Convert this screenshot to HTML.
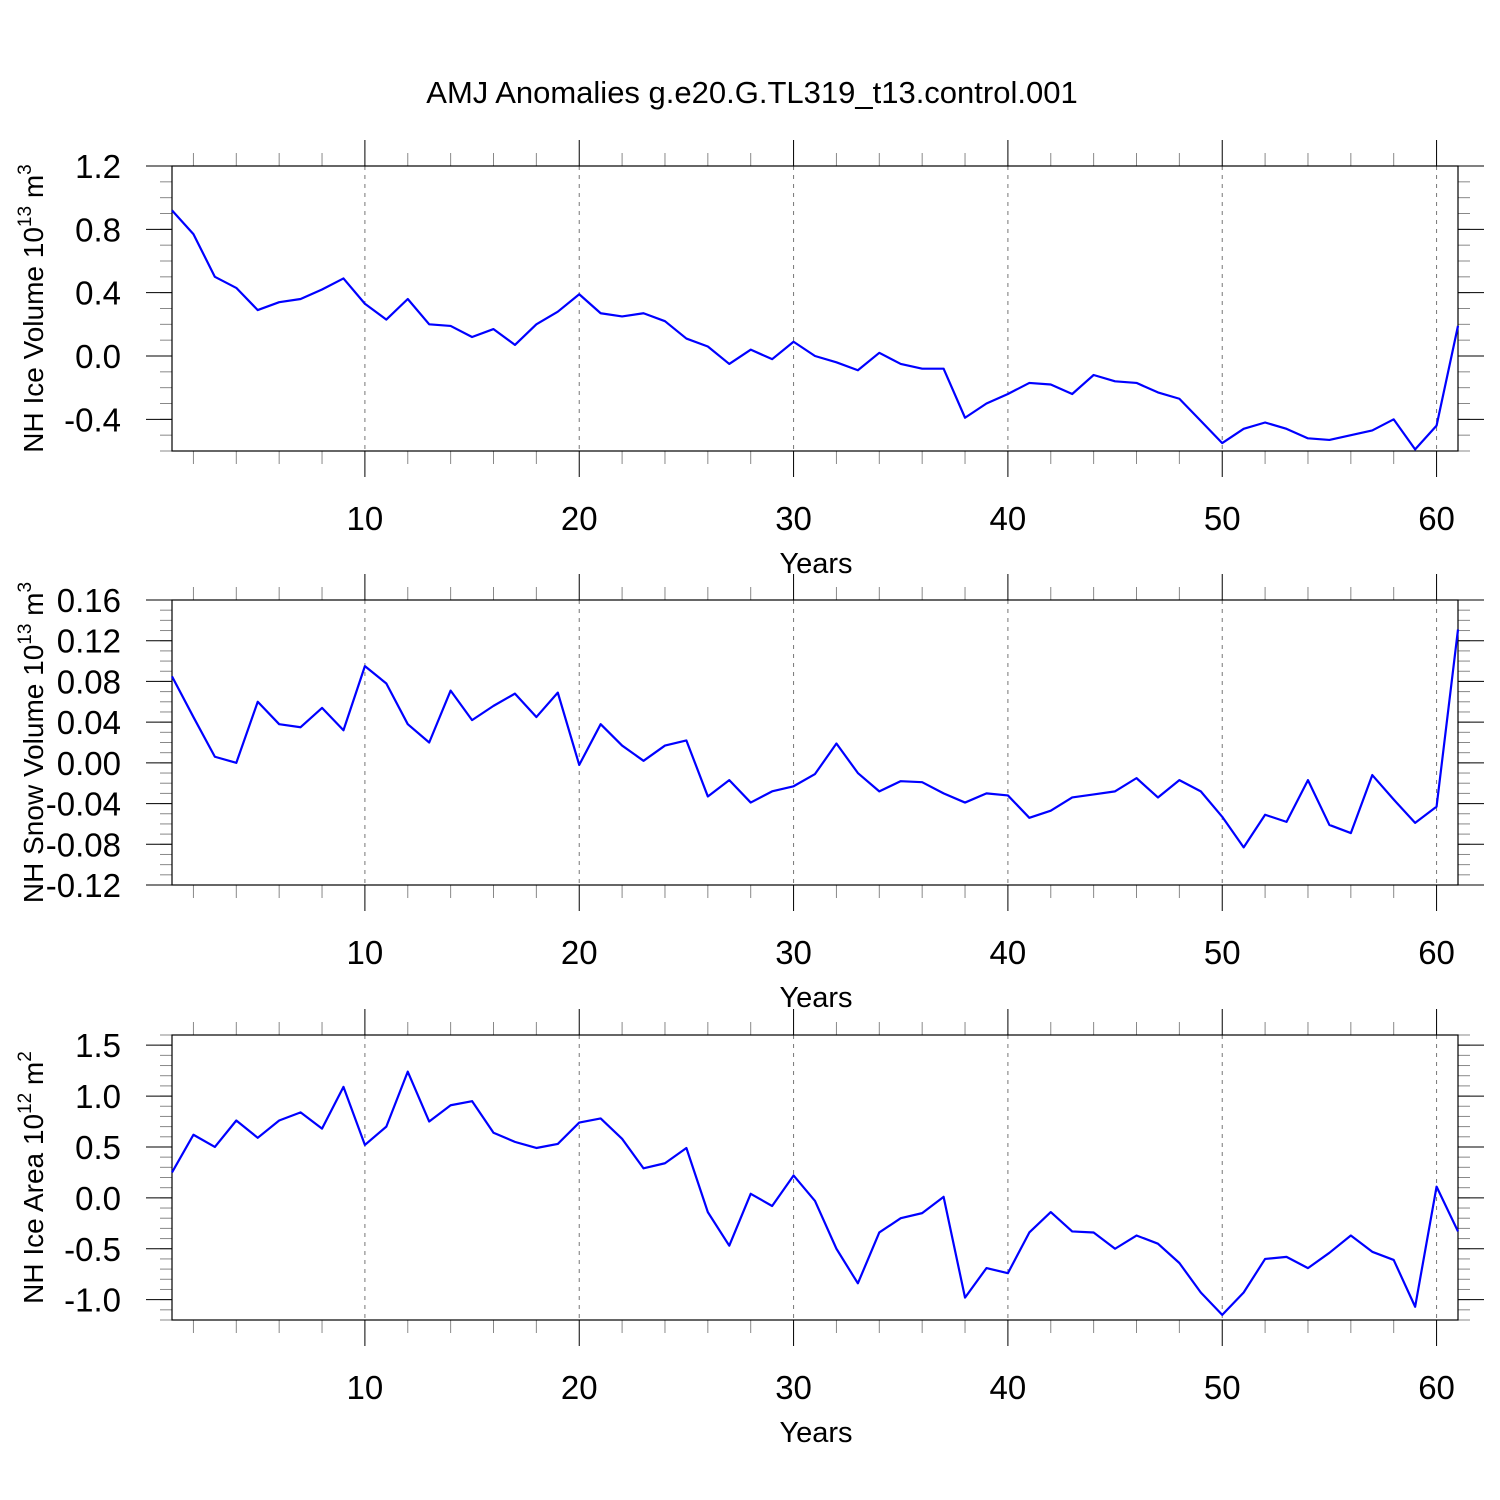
<!DOCTYPE html>
<html><head><meta charset="utf-8"><style>
html,body{margin:0;padding:0;background:#fff;}
svg{display:block;font-family:"Liberation Sans",sans-serif;}
</style></head><body>
<svg id="chart" width="1500" height="1500" viewBox="0 0 1500 1500">
<text x="752" y="103" font-size="31" text-anchor="middle">AMJ Anomalies g.e20.G.TL319_t13.control.001</text>
</svg>
<script>
const years = Array.from({length:61},(_,i)=>i+1);
const xTicks = [10,20,30,40,50,60];
const iceVolume = [0.92,0.77,0.50,0.43,0.29,0.34,0.36,0.42,0.49,0.33,0.23,0.36,0.20,0.19,0.12,0.17,0.07,0.20,0.28,0.39,0.27,0.25,0.27,0.22,0.11,0.06,-0.05,0.04,-0.02,0.09,0.0,-0.04,-0.09,0.02,-0.05,-0.08,-0.08,-0.39,-0.30,-0.24,-0.17,-0.18,-0.24,-0.12,-0.16,-0.17,-0.23,-0.27,-0.41,-0.55,-0.46,-0.42,-0.46,-0.52,-0.53,-0.50,-0.47,-0.40,-0.59,-0.44,0.19];
const snowVolume = [0.085,0.045,0.006,0.0,0.060,0.038,0.035,0.054,0.032,0.095,0.078,0.038,0.020,0.071,0.042,0.056,0.068,0.045,0.069,-0.002,0.038,0.017,0.002,0.017,0.022,-0.033,-0.017,-0.039,-0.028,-0.023,-0.011,0.019,-0.010,-0.028,-0.018,-0.019,-0.030,-0.039,-0.030,-0.032,-0.054,-0.047,-0.034,-0.031,-0.028,-0.015,-0.034,-0.017,-0.028,-0.053,-0.083,-0.051,-0.058,-0.017,-0.061,-0.069,-0.012,-0.036,-0.059,-0.043,0.131];
const iceArea = [0.25,0.62,0.50,0.76,0.59,0.76,0.84,0.68,1.09,0.52,0.70,1.24,0.75,0.91,0.95,0.64,0.55,0.49,0.53,0.74,0.78,0.58,0.29,0.34,0.49,-0.14,-0.47,0.04,-0.08,0.22,-0.03,-0.50,-0.84,-0.34,-0.20,-0.15,0.01,-0.98,-0.69,-0.74,-0.34,-0.14,-0.33,-0.34,-0.50,-0.37,-0.45,-0.64,-0.93,-1.15,-0.93,-0.60,-0.58,-0.69,-0.54,-0.37,-0.53,-0.61,-1.07,0.11,-0.33];
const volTicks = [-0.4,0.0,0.4,0.8,1.2];
const volLabels = ["-0.4","0.0","0.4","0.8","1.2"];
const snowTicks = [-0.12,-0.08,-0.04,0,0.04,0.08,0.12,0.16];
const snowLabels = ["-0.12","-0.08","-0.04","0.00","0.04","0.08","0.12","0.16"];
const areaTicks = [-1.0,-0.5,0,0.5,1.0,1.5];
const areaLabels = ["-1.0","-0.5","0.0","0.5","1.0","1.5"];

const svg = document.getElementById('chart');
const NS = 'http://www.w3.org/2000/svg';
function mk(tag, attrs, parent){const e=document.createElementNS(NS,tag);for(const k in attrs)e.setAttribute(k,attrs[k]);(parent||svg).appendChild(e);return e;}
const X0=172,X1=1458;
const xs = v => X0 + (v-1)*(X1-X0)/60;

function panel(name, top, bottom, ymin, ymax, data, ticks, labels, minorStep, titleParts){
  const g = mk('g',{});
  
  
  const ys = v => bottom - (v-ymin)*(bottom-top)/(ymax-ymin);
  xTicks.forEach(t=>{
    const l=mk('line',{x1:xs(t),x2:xs(t),y1:top,y2:bottom,stroke:'#777','stroke-width':1,'stroke-dasharray':'4,5'},g);
    
    
  });
  years.forEach(t=>{
    if(t%2!==0) return;
    const major = t%10===0;
    const len = major?26:13;
    mk('line',{x1:xs(t),x2:xs(t),y1:top,y2:top-len,stroke:major?'#000':'#888','stroke-width':1},g);
    mk('line',{x1:xs(t),x2:xs(t),y1:bottom,y2:bottom+len,stroke:major?'#000':'#888','stroke-width':1},g);
  });
  xTicks.forEach(t=>{
    const tx=mk('text',{x:xs(t),y:bottom+79,'font-size':33,'text-anchor':'middle'},g);
    tx.textContent=t;
    
    
  });
  const xt=mk('text',{x:816,y:bottom+122,'font-size':29,'text-anchor':'middle'},g);
  xt.textContent='Years';
  
  
  const n=Math.round((ymax-ymin)/minorStep);
  for(let i=0;i<=n;i++){
    const v=ymin+i*minorStep, y=ys(v);
    mk('line',{x1:X0,x2:X0-12,y1:y,y2:y,stroke:'#888'},g);
    mk('line',{x1:X1,x2:X1+12,y1:y,y2:y,stroke:'#888'},g);
  }
  ticks.forEach((v,i)=>{
    const y=ys(v);
    mk('line',{x1:X0,x2:X0-26,y1:y,y2:y,stroke:'#000'},g);
    mk('line',{x1:X1,x2:X1+26,y1:y,y2:y,stroke:'#000'},g);
    const tx=mk('text',{x:121,y:y+12,'font-size':33,'text-anchor':'end'},g);
    tx.textContent=labels[i];
    
    
  });
  mk('rect',{x:X0,y:top,width:X1-X0,height:bottom-top,fill:'none',stroke:'#000','stroke-width':1.2},g);
  const pts=data.map((v,i)=>xs(years[i])+','+ys(v)).join(' ');
  const pl=mk('polyline',{points:pts,fill:'none',stroke:'#0000ff','stroke-width':2.2,'stroke-linejoin':'round'},g);
  
  
  const cy=(top+bottom)/2;
  const yt=mk('text',{x:0,y:0,'font-size':28,'text-anchor':'middle',transform:`translate(43,${cy}) rotate(-90)`},g);
  
  
  yt.innerHTML = titleParts;
}
panel('ice-volume',166,451,-0.6,1.2,iceVolume,volTicks,volLabels,0.1,'NH Ice Volume 10<tspan dy="-12" font-size="19">13</tspan><tspan dy="12"> m</tspan><tspan dy="-12" font-size="19">3</tspan>');
panel('snow-volume',600,885,-0.12,0.16,snowVolume,snowTicks,snowLabels,0.01,'NH Snow Volume 10<tspan dy="-12" font-size="19">13</tspan><tspan dy="12"> m</tspan><tspan dy="-12" font-size="19">3</tspan>');
panel('ice-area',1035,1320,-1.2,1.6,iceArea,areaTicks,areaLabels,0.1,'NH Ice Area 10<tspan dy="-12" font-size="19">12</tspan><tspan dy="12"> m</tspan><tspan dy="-12" font-size="19">2</tspan>');
</script>
</body></html>
